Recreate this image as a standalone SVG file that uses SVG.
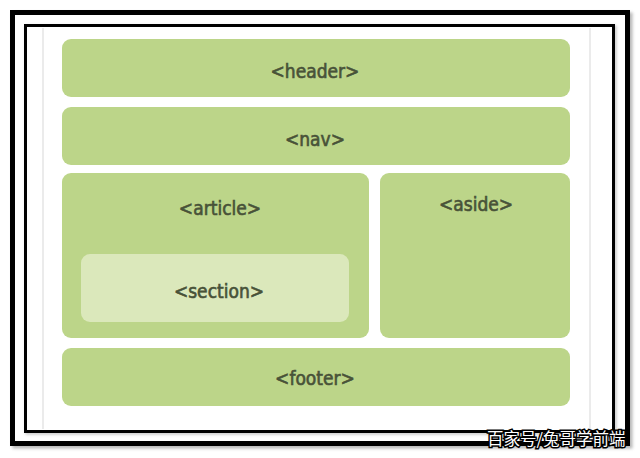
<svg xmlns="http://www.w3.org/2000/svg" width="640" height="458" viewBox="0 0 640 458">
<defs>
<style>
.box{fill:#bcd589;}
.sec{fill:#dbe8bb;}
.lbl{font-family:"DejaVu Sans Condensed","Liberation Sans",sans-serif;font-size:19px;font-weight:normal;fill:#485238;stroke:#485238;stroke-width:0.6;text-anchor:middle;}
.wm{font-family:"Noto Sans CJK SC",sans-serif;font-size:16.5px;fill:#ffffff;}
</style>
<filter id="sh" x="-5%" y="-5%" width="110%" height="110%"><feGaussianBlur stdDeviation="1.5"/></filter>
</defs>
<rect width="640" height="458" fill="#ffffff"/>
<rect x="15" y="15" width="615" height="431" fill="none" stroke="#888" stroke-width="5" filter="url(#sh)" opacity="0.6"/>
<rect x="12.5" y="12.5" width="615" height="431" fill="#ffffff" stroke="#000" stroke-width="5"/>
<rect x="27" y="27" width="588" height="406" fill="none" stroke="#999" stroke-width="3" filter="url(#sh)" opacity="0.6"/>
<rect x="25.5" y="25.5" width="588" height="406" fill="#ffffff" stroke="#000" stroke-width="3"/>
<line x1="43" y1="28" x2="43" y2="429" stroke="#ebebeb" stroke-width="2"/>
<line x1="590" y1="28" x2="590" y2="429" stroke="#ebebeb" stroke-width="2"/>
<g id="header"><rect class="box" x="62" y="39" width="508" height="58" rx="9"/><text class="lbl" x="315" y="78">&lt;header&gt;</text></g>
<g id="nav"><rect class="box" x="62" y="107" width="508" height="58" rx="9"/><text class="lbl" x="315" y="146">&lt;nav&gt;</text></g>
<g id="article"><rect class="box" x="62" y="173" width="307" height="165" rx="9"/><text class="lbl" x="220" y="215">&lt;article&gt;</text></g>
<g id="section"><rect class="sec" x="81" y="254" width="268" height="68" rx="9"/><text class="lbl" x="219" y="298">&lt;section&gt;</text></g>
<g id="aside"><rect class="box" x="380" y="173" width="190" height="165" rx="9"/><text class="lbl" x="476" y="211">&lt;aside&gt;</text></g>
<g id="footer"><rect class="box" x="62" y="348" width="508" height="58" rx="9"/><text class="lbl" x="315" y="385">&lt;footer&gt;</text></g>
<g id="connectors"></g>
<text class="wm" x="487" y="445" stroke="#000" stroke-width="3" style="fill:#000">百家号/兔哥学前端</text>
<text class="wm" x="487" y="445">百家号/兔哥学前端</text>
</svg>
